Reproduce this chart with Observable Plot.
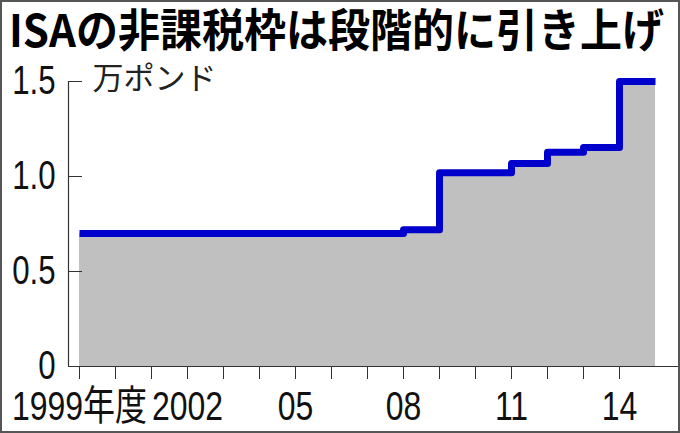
<!DOCTYPE html>
<html>
<head>
<meta charset="utf-8">
<script src="https://cdn.jsdelivr.net/npm/d3@7"></script>
<script src="https://cdn.jsdelivr.net/npm/@observablehq/plot@0.6"></script>
<style>
  html, body { margin: 0; padding: 0; background: #fff; }
  #wrap { position: relative; width: 680px; height: 433px; overflow: hidden; background: #fff; }
  #title { position: absolute; left: 0; top: 0; }
  #chart { position: absolute; left: 0; top: 58px; }
  #border { position: absolute; left: 0; top: 0; width: 680px; height: 433px; box-sizing: border-box; border: 2px solid #555; pointer-events: none; }
</style>
</head>
<body>
<div id="wrap">
  <svg id="title" width="680" height="58">
    <text x="9" y="47" font-family="'Noto Sans CJK JP', sans-serif" font-weight="700" font-size="45" fill="#000" textLength="655" lengthAdjust="spacingAndGlyphs">ISAの非課税枠は段階的に引き上げ</text>
  </svg>
  <div id="chart"></div>
  <div id="border"></div>
</div>
<script>
// Data (fiscal year start -> ISA tax-free allowance, 万ポンド)
const years  = [1999, 2000, 2001, 2002, 2003, 2004, 2005, 2006, 2007, 2008, 2009, 2010, 2011, 2012, 2013, 2014];
const values = [0.70, 0.70, 0.70, 0.70, 0.70, 0.70, 0.70, 0.70, 0.70, 0.72, 1.02, 1.02, 1.068, 1.128, 1.152, 1.50];
const xTickYears  = [1999, 2000, 2001, 2002, 2003, 2004, 2005, 2006, 2007, 2008, 2009, 2010, 2011, 2012, 2013, 2014];
const xLabelYears = [1999, 2002, 2005, 2008, 2011, 2014];
const xLabelTexts = ["1999年度", "2002", "05", "08", "11", "14"];
const yTicks      = [0, 0.5, 1.0, 1.5];
const yTickLabels = ["0", "0.5", "1.0", "1.5"];
const unitLabel   = "万ポンド";

// Step data: each fiscal year spans [year, year+1)
const steps = years.map((y, i) => ({year: y, value: values[i]}));
steps.push({year: years[years.length - 1] + 1, value: values[values.length - 1]});

const labelOf = new Map(xLabelYears.map((y, i) => [y, xLabelTexts[i]]));
const yLabelOf = new Map(yTicks.map((v, i) => [v, yTickLabels[i]]));

const W = 680, H = 375;
const pxPerYear = 36;
const marginLeft = 68, marginRight = 2;
const xMin = years[0] - 11 / pxPerYear;
const xMax = xMin + (W - marginLeft - marginRight) / pxPerYear;

const font = "'Liberation Sans', Arial, 'Noto Sans CJK JP', sans-serif";
const narrow = 0.78; // horizontal condensing of tick labels

const chart = Plot.plot({
  width: W,
  height: H,
  marginLeft,
  marginRight,
  marginTop: 23,
  marginBottom: 67,
  style: {fontFamily: font, background: "#fff", color: "#111", overflow: "visible"},
  x: {domain: [xMin, xMax], axis: null},
  y: {domain: [0, 1.5], axis: null},
  marks: [
    Plot.areaY(steps, {x: "year", y: "value", curve: "step-after", fill: "#c0c0c0"}),
    Plot.lineY(steps, {x: "year", y: "value", curve: "step-after", stroke: "#0000cc", strokeWidth: 7, strokeLinejoin: "round", strokeLinecap: "butt"}),
    Plot.axisX({
      ticks: xTickYears,
      tickSize: 13,
      tickPadding: 11,
      tickFormat: d => labelOf.get(d) ?? "",
      label: null,
      fontSize: 41,
      stroke: "#333",
      fill: "#111",
      className: "xlab"
    }),
    Plot.axisY({
      ticks: yTicks,
      tickSize: -14,
      tickPadding: 27,
      tickFormat: d => yLabelOf.get(d),
      label: null,
      fontSize: 40,
      stroke: "#333",
      fill: "#111"
    }),
    Plot.ruleY([0], {stroke: "#333", strokeWidth: 1.2}),
    Plot.ruleX([xMin], {y1: 0, y2: 1.5, stroke: "#333", strokeWidth: 1.2}),
    Plot.text([unitLabel], {
      frameAnchor: "top-left",
      text: d => d,
      dx: 24,
      dy: -2,
      textAnchor: "start",
      lineAnchor: "middle",
      fontSize: 31,
      fontFamily: "'Noto Sans CJK JP', sans-serif",
      fill: "#222",
      className: "unit"
    })
  ]
});
// condense axis tick labels horizontally (narrow typeface look)
chart.querySelectorAll("g[aria-label$='axis tick label'] text").forEach(t => {
  const tr = t.getAttribute("transform") || "";
  t.setAttribute("transform", tr + ` scale(${narrow},1)`);
});
document.getElementById("chart").appendChild(chart);
</script>
</body>
</html>
